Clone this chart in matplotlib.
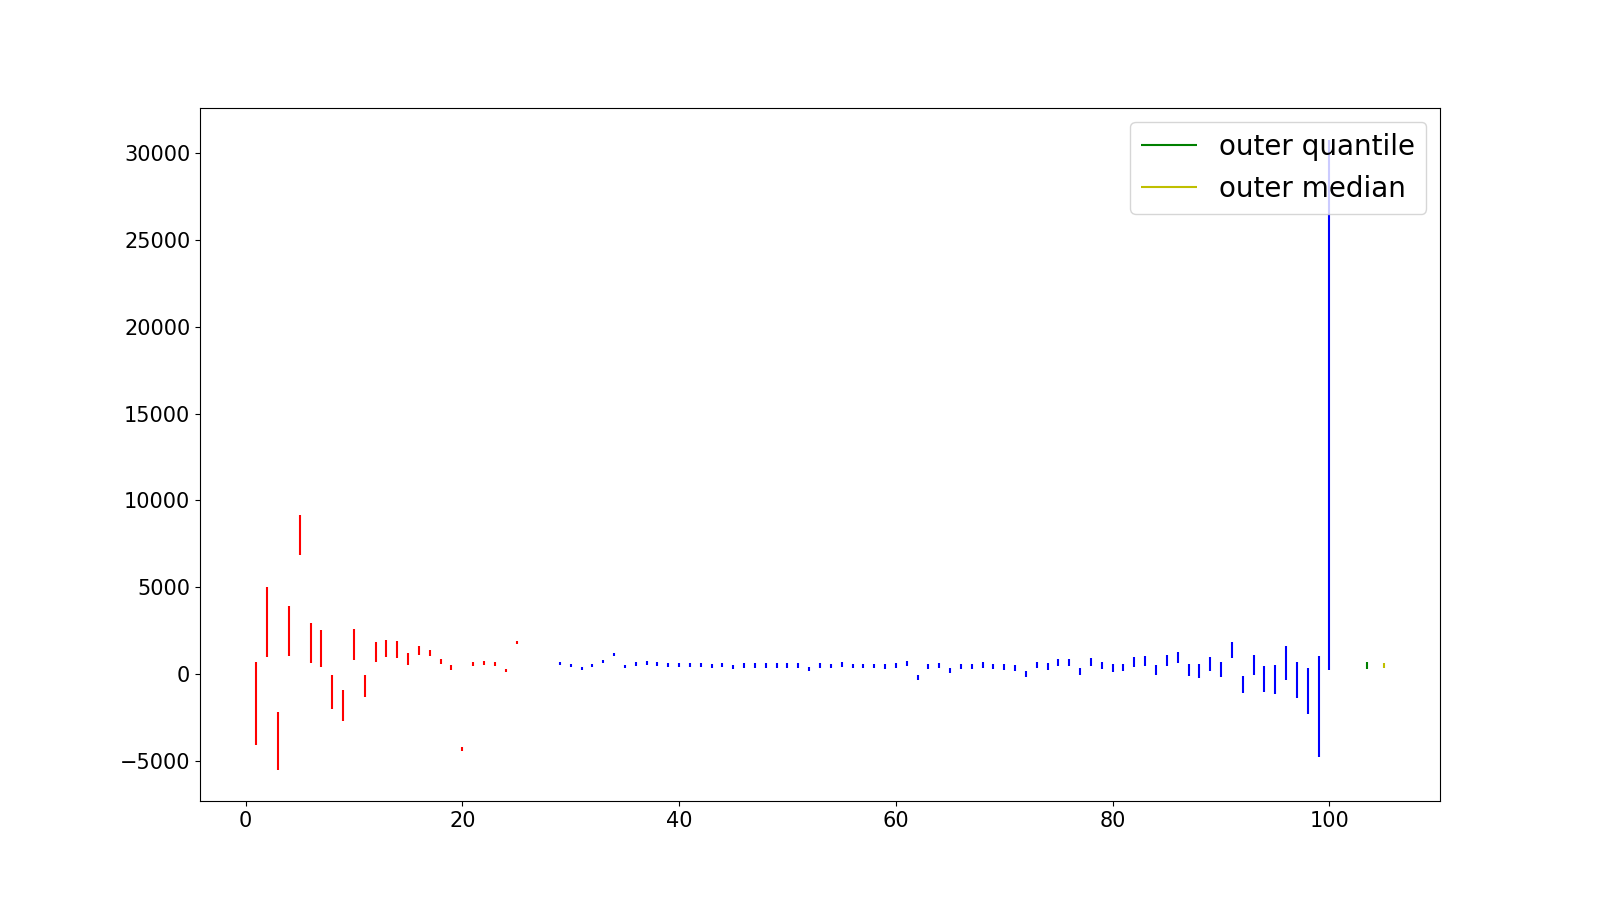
import numpy as np
import matplotlib.pyplot as plt

# inner ranges (red)
red_x = list(range(1, 26))
red_hi = [690, 5006, -2186, 3912, 9149, 2934, 2532, -58, -920, 2589, -58, 1841, 1956,
          1899, 1208, 1611, 1381, 863, 518, -4200, 690, 748, 690, 288, 1899]
red_lo = [-4085, 995, -5475, 1055, 6866, 652, 422, -1995, -2685, 824, -1304, 709, 995,
          939, 537, 1113, 1055, 594, 249, -4413, 479, 537, 479, 134, 1745]

# outer ranges (blue)
blue_x = list(range(29, 101))
blue_hi = [690, 575, 403, 575, 805, 1208, 518, 690, 748, 690, 633, 633, 633, 633, 575, 633,
           518, 633, 633, 633, 633, 633, 633, 403, 633, 575, 690, 575,
           575, 575, 575, 633, 748, -58, 575, 633, 345, 575, 575, 690, 575, 575, 518, 173,
           690, 633, 863, 863, 345, 920, 690, 575, 575, 978, 1036, 518, 1093, 1266, 575,
           575, 978, 690, 1841, -115, 1093, 460, 518, 1611, 690, 345, 1036, 30760]
blue_lo = [537, 420, 247, 420, 650, 1053, 362, 460, 518, 460, 403, 403, 403, 403, 345, 403,
           288, 345, 345, 345, 345, 345, 345, 173, 345, 345, 403, 345,
           345, 345, 288, 345, 460, -345, 288, 345, 58, 288, 288, 345, 288, 230, 173, -173,
           345, 230, 460, 460, -58, 460, 288, 115, 173, 403, 460, -58, 460, 633, -115,
           -230, 173, -173, 920, -1093, -58, -1036, -1151, -345, -1381, -2301, -4776, 230]

# summary marks
quantile_x, quantile_lo, quantile_hi = 103.5, 288, 690
median_x, median_lo, median_hi = 105, 345, 633

fig, ax = plt.subplots(figsize=(16, 9), dpi=100)
ax.vlines(red_x, red_lo, red_hi, colors='r', linewidth=1.5)
ax.vlines(blue_x, blue_lo, blue_hi, colors='b', linewidth=1.5)
ax.vlines(quantile_x, quantile_lo, quantile_hi, colors='g', linewidth=1.5, label='outer quantile')
ax.vlines(median_x, median_lo, median_hi, colors='y', linewidth=1.5, label='outer median')

ax.tick_params(labelsize=15)
ax.legend(loc='upper right', fontsize=20)

plt.savefig('out.png')
